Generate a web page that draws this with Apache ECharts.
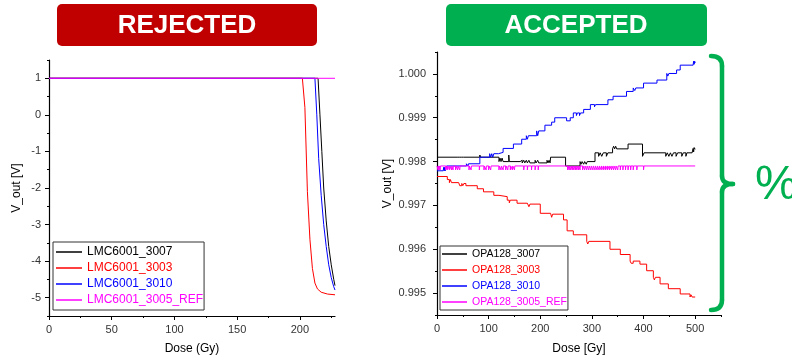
<!DOCTYPE html>
<html>
<head>
<meta charset="utf-8">
<script src="https://cdn.jsdelivr.net/npm/echarts@6/dist/echarts.min.js"></script>
<style>
  html, body { margin: 0; padding: 0; background: #fff; }
  #chart { width: 792px; height: 360px; }
</style>
</head>
<body>
<div id="chart"></div>
<script>
// ---- data ----
// left panel: LMC6001, V_out vs dose (Gy)
const lmc3007 = [[0, 1], [214.5, 1], [216, 0.0], [217.5, -1.0], [219, -2.0], [221, -2.9], [223, -3.6], [225, -4.1], [227, -4.5], [228, -4.67]];
const lmc3003 = [[0, 1], [202, 1], [204, 0.2], [206, -2.1], [208, -3.4], [210, -4.2], [212, -4.6], [214, -4.76], [217, -4.85], [222, -4.9], [228, -4.92]];
const lmc3010 = [[0, 1], [212, 1], [213.5, 0.0], [215, -1.2], [217, -2.2], [219, -3.0], [221, -3.6], [223, -4.1], [225, -4.45], [227, -4.7], [228, -4.79]];
const lmc3005ref = [[0, 1], [228, 1]];

// right panel: OPA128 (step data)
const opa3007 = [[0, 0.9981], [39, 0.99813], [41, 0.9981], [43, 0.99813], [45, 0.9981], [47, 0.99813], [49, 0.9981], [51, 0.99813], [52, 0.9981],
  [83, 0.99815], [84, 0.9981], [120, 0.998], [122, 0.99808], [124, 0.998], [126, 0.99808], [128, 0.998], [139, 0.99815], [140, 0.998],
  [161, 0.99797], [163, 0.99803], [165, 0.99797], [168, 0.99803], [170, 0.99797], [173, 0.99803], [175, 0.99797], [178, 0.99803], [180, 0.99797],
  [190, 0.99803], [192, 0.99797], [195, 0.99803], [197, 0.99797], [213, 0.99803], [215, 0.99797], [217, 0.99803], [219, 0.99797],
  [220, 0.9981], [249, 0.9979], [277, 0.998], [279, 0.99794], [281, 0.998], [284, 0.99794], [286, 0.998], [289, 0.99794], [291, 0.998],
  [306, 0.9982], [313, 0.99812], [316, 0.9982], [319, 0.99812], [322, 0.9982], [328, 0.99812], [331, 0.9982],
  [340, 0.99829], [342, 0.99835], [344, 0.99829], [346, 0.99835], [348, 0.99829], [370, 0.9984], [398, 0.99812], [401, 0.9982],
  [443, 0.99812], [446, 0.9982], [449, 0.99812], [452, 0.9982], [455, 0.99812], [458, 0.9982], [463, 0.99812], [466, 0.9982],
  [474, 0.99812], [477, 0.9982], [482, 0.99812], [484, 0.9982], [494, 0.99822], [496, 0.9983], [497, 0.99822], [498, 0.99832], [500, 0.99828]];
const opa3003 = [[0, 0.99766], [20, 0.99759], [24, 0.99752], [26, 0.99759], [28, 0.99752], [42, 0.9975], [44, 0.99745], [48, 0.9975], [50, 0.99745],
  [52, 0.9975], [56, 0.99745], [78, 0.99738], [90, 0.99731], [110, 0.99723], [120, 0.9972], [136, 0.99712], [140, 0.99706], [142, 0.99712],
  [155, 0.99705], [175, 0.99703], [178, 0.99697], [180, 0.99703], [200, 0.99682], [220, 0.9968], [222, 0.99673], [224, 0.9968],
  [245, 0.99667], [252, 0.99642], [264, 0.99633], [290, 0.99618], [292, 0.99612], [294, 0.99618], [335, 0.996], [355, 0.99588],
  [374, 0.99573], [376, 0.99568], [380, 0.99573], [393, 0.99566], [406, 0.99551], [419, 0.99536], [421, 0.9953], [423, 0.99536],
  [432, 0.99521], [448, 0.9951], [471, 0.99498], [490, 0.99491], [492, 0.99496], [494, 0.99491], [500, 0.99491]];
const opa3010 = [[0, 0.99779], [12, 0.99779], [13, 0.99787], [14, 0.99779], [15, 0.99787], [16, 0.99779], [18.5, 0.9979], [57, 0.99795],
  [60, 0.9979], [61, 0.99795], [83, 0.9981], [102, 0.99818], [104, 0.9981], [106, 0.99818], [108, 0.9981], [110, 0.99818],
  [119, 0.99821], [128, 0.9983], [148, 0.9984], [164, 0.99851], [173, 0.99859], [175, 0.99851], [177, 0.99859], [193, 0.9987],
  [195, 0.99859], [197, 0.9987], [209, 0.99883], [222, 0.9989], [228, 0.999], [251, 0.99893], [258, 0.999], [264, 0.99911],
  [270, 0.99905], [272, 0.99911], [276, 0.99905], [278, 0.99911], [284, 0.99919], [297, 0.9993], [305, 0.99925], [307, 0.9993],
  [331, 0.99941], [341, 0.99949], [367, 0.9996], [380, 0.99968], [383, 0.99962], [385, 0.99968], [400, 0.99979], [426, 0.99986],
  [445, 1.00001], [447, 0.99995], [449, 1.00001], [464, 1.00009], [471, 1.0002], [496, 1.00024], [497, 1.00029], [498, 1.00022],
  [499, 1.00029], [500, 1.00025]];
const opaRefLevel = 0.9979;
const opaRefDipLevel = 0.99781;
const opaRefDips = [2, 4, 6, 17, 20, 24, 28, 31, 36, 40, 44, 62, 66, 82, 91, 95, 100, 104, 120, 124, 128, 133, 137, 142, 146, 150,
  168, 175, 183, 190, 196, 253, 256, 259, 262, 265, 268, 271, 274, 277, 282, 286, 290, 294, 298, 302, 306, 310, 314, 318, 322,
  326, 330, 334, 338, 342, 346, 350, 355, 360, 365, 370, 375, 380, 387, 400];

// ticks
const leftXTicks = [0, 50, 100, 150, 200];
const leftXMinor = [25, 75, 125, 175, 225];
const leftYTicks = [-5, -4, -3, -2, -1, 0, 1];
const leftYMinor = [-5.5, -4.5, -3.5, -2.5, -1.5, -0.5, 0.5, 1.5];
const rightXTicks = [0, 100, 200, 300, 400, 500];
const rightXMinor = [50, 150, 250, 350, 450, 550];
const rightYTicks = [0.995, 0.996, 0.997, 0.998, 0.999, 1.0];
const rightYMinor = [0.9945, 0.9955, 0.9965, 0.9975, 0.9985, 0.9995, 1.0005];

const FONT = '"Liberation Sans", Arial, sans-serif';
const GREEN = '#00B050';

// REF series as step points with its small dips
const opaRef = [[0, opaRefLevel]];
opaRefDips.forEach(g => { opaRef.push([g, opaRefDipLevel]); opaRef.push([g + 0.7, opaRefLevel]); });
opaRef.push([500, opaRefLevel]);

function mainAxis(gridIndex, position, min, max, ticks, fmt, extra) {
  return Object.assign({
    type: 'value', gridIndex, position, min, max,
    axisLine: { show: true, onZero: false, lineStyle: { color: '#000', width: 1.2 } },
    axisTick: { show: true, inside: false, length: 4, customValues: ticks, lineStyle: { color: '#000' } },
    axisLabel: { customValues: ticks, color: '#333', fontSize: 11, fontFamily: FONT, formatter: fmt },
    splitLine: { show: false },
    nameTextStyle: { color: '#000', fontSize: 12, fontFamily: FONT }
  }, extra);
}
function minorAxis(gridIndex, position, min, max, ticks) {
  return {
    type: 'value', gridIndex, position, min, max,
    axisLine: { show: false, onZero: false },
    axisTick: { show: true, inside: false, length: 2, customValues: ticks, lineStyle: { color: '#000' } },
    axisLabel: { show: false },
    splitLine: { show: false }
  };
}

const chart = echarts.init(document.getElementById('chart'), null, { renderer: 'canvas' });

const lineSeries = (name, data, color, xi, yi, step) => ({
  name, type: 'line', data, xAxisIndex: xi, yAxisIndex: yi,
  step: step ? 'end' : false, symbol: 'none', silent: true, animation: false,
  lineStyle: { color, width: 1 }, itemStyle: { color }
});

const legendBase = {
  orient: 'vertical', selectedMode: false, backgroundColor: '#fff',
  borderColor: '#333', borderWidth: 1, borderRadius: 0,
  icon: 'rect', itemWidth: 26, itemHeight: 1.5, itemGap: 2
};

const bracketStyle = { stroke: GREEN, lineWidth: 4.5, lineCap: 'round' };

chart.setOption({
  backgroundColor: '#fff',
  animation: false,
  grid: [
    { left: 49, top: 60, width: 286, height: 257 },
    { left: 437, top: 52, width: 284, height: 266 }
  ],
  xAxis: [
    mainAxis(0, 'bottom', 0, 228, leftXTicks, v => String(v), { name: 'Dose (Gy)', nameLocation: 'middle', nameGap: 27 }),
    minorAxis(0, 'bottom', 0, 228, leftXMinor),
    mainAxis(1, 'bottom', 0, 550, rightXTicks, v => String(v), { name: 'Dose [Gy]', nameLocation: 'middle', nameGap: 28 }),
    minorAxis(1, 'bottom', 0, 550, rightXMinor)
  ],
  yAxis: [
    mainAxis(0, 'left', -5.5, 1.5, leftYTicks, v => String(v), { name: 'V_out [V]', nameLocation: 'middle', nameGap: 26, axisLabel: { customValues: leftYTicks, color: '#333', fontSize: 11, fontFamily: FONT, margin: 8 } }),
    minorAxis(0, 'left', -5.5, 1.5, leftYMinor),
    mainAxis(1, 'left', 0.9945, 1.0005, rightYTicks, v => v.toFixed(3), { name: 'V_out [V]', nameLocation: 'middle', nameGap: 43, axisLabel: { customValues: rightYTicks, color: '#333', fontSize: 11, fontFamily: FONT, margin: 11, formatter: v => v.toFixed(3) } }),
    minorAxis(1, 'left', 0.9945, 1.0005, rightYMinor)
  ],
  legend: [
    Object.assign({}, legendBase, {
      left: 53, top: 242, padding: [3, 1, 3, 3],
      textStyle: { fontSize: 12, fontFamily: FONT, lineHeight: 14 },
      data: [
        { name: 'LMC6001_3007', textStyle: { color: '#000' } },
        { name: 'LMC6001_3003', textStyle: { color: '#FF0000' } },
        { name: 'LMC6001_3010', textStyle: { color: '#0000FF' } },
        { name: 'LMC6001_3005_REF', textStyle: { color: '#FF00FF' } }
      ]
    }),
    Object.assign({}, legendBase, {
      left: 440, top: 246, padding: [1, 1, 1, 2], itemWidth: 25,
      textStyle: { fontSize: 10.5, fontFamily: FONT, lineHeight: 14 },
      data: [
        { name: 'OPA128_3007', textStyle: { color: '#000' } },
        { name: 'OPA128_3003', textStyle: { color: '#FF0000' } },
        { name: 'OPA128_3010', textStyle: { color: '#0000FF' } },
        { name: 'OPA128_3005_REF', textStyle: { color: '#FF00FF' } }
      ]
    })
  ],
  series: [
    lineSeries('LMC6001_3007', lmc3007, '#000000', 0, 0, false),
    lineSeries('LMC6001_3003', lmc3003, '#FF0000', 0, 0, false),
    lineSeries('LMC6001_3010', lmc3010, '#0000FF', 0, 0, false),
    lineSeries('LMC6001_3005_REF', lmc3005ref, '#FF00FF', 0, 0, false),
    lineSeries('OPA128_3007', opa3007, '#000000', 2, 2, true),
    lineSeries('OPA128_3003', opa3003, '#FF0000', 2, 2, true),
    lineSeries('OPA128_3010', opa3010, '#0000FF', 2, 2, true),
    lineSeries('OPA128_3005_REF', opaRef, '#FF00FF', 2, 2, true)
  ],
  graphic: [
    { type: 'rect', shape: { x: 57, y: 4, width: 260, height: 42, r: 5 }, style: { fill: '#C00000' } },
    { type: 'text', x: 187, y: 26, style: { text: 'REJECTED', fill: '#fff', font: 'bold 26px ' + FONT, align: 'center', verticalAlign: 'middle' } },
    { type: 'rect', shape: { x: 446, y: 4, width: 261, height: 42, r: 5 }, style: { fill: GREEN } },
    { type: 'text', x: 576, y: 26, style: { text: 'ACCEPTED', fill: '#fff', font: 'bold 26px ' + FONT, align: 'center', verticalAlign: 'middle' } },
    // curly bracket
    { type: 'bezierCurve', shape: { x1: 711, y1: 56, cpx1: 722, cpy1: 56, x2: 722, y2: 66 }, style: Object.assign({ fill: 'none' }, bracketStyle) },
    { type: 'line', shape: { x1: 722, y1: 66, x2: 722, y2: 176 }, style: bracketStyle },
    { type: 'bezierCurve', shape: { x1: 722, y1: 176, cpx1: 722, cpy1: 184, x2: 733, y2: 184 }, style: Object.assign({ fill: 'none' }, bracketStyle) },
    { type: 'bezierCurve', shape: { x1: 733, y1: 184, cpx1: 722, cpy1: 184, x2: 722, y2: 192 }, style: Object.assign({ fill: 'none' }, bracketStyle) },
    { type: 'line', shape: { x1: 722, y1: 192, x2: 722, y2: 300 }, style: bracketStyle },
    { type: 'bezierCurve', shape: { x1: 722, y1: 300, cpx1: 722, cpy1: 310, x2: 711, y2: 310 }, style: Object.assign({ fill: 'none' }, bracketStyle) },
    { type: 'text', x: 755, y: 186, style: { text: '%', fill: GREEN, font: '48px ' + FONT, align: 'left', verticalAlign: 'middle' } }
  ]
});
</script>
</body>
</html>
